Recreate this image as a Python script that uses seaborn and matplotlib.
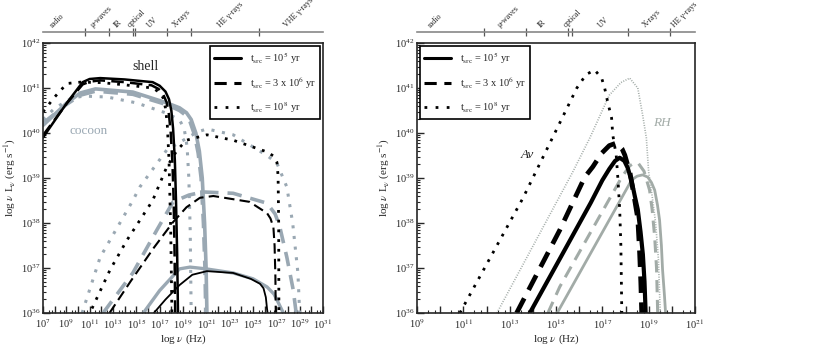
import numpy as np
import pandas as pd
import matplotlib
matplotlib.use('Agg')
import matplotlib.pyplot as plt
import matplotlib.ticker as mticker
from matplotlib.lines import Line2D
import seaborn as sns

sns.set_style('ticks')
plt.rcParams['font.family'] = ['Liberation Serif', 'DejaVu Serif']
plt.rcParams['mathtext.fontset'] = 'stix'

BLACK = '#000000'
GRAY_L = '#9aa8b3'
GRAY_R = '#a2aba7'

# ---- left panel: shell (black) and cocoon (gray), log nu / log L ----
shell_sol_hi_x = [7, 9.05, 10.4, 11.0, 11.9, 14.0, 16.4, 17.0, 17.5, 17.8, 18.0, 18.15, 18.3, 18.4, 18.5, 18.57]
shell_sol_hi_y = [39.9, 40.67, 41.13, 41.2, 41.22, 41.19, 41.13, 41.05, 40.92, 40.75, 40.5, 40.1, 39.4, 38.5, 37.3, 36.0]
shell_dash_hi_x = [7, 9.05, 10.4, 11.0, 11.9, 14.0, 16.3, 16.9, 17.3, 17.6, 17.8, 17.95, 18.1, 18.2, 18.28, 18.33]
shell_dash_hi_y = [39.95, 40.66, 41.08, 41.14, 41.17, 41.13, 41.06, 40.98, 40.86, 40.68, 40.4, 40.0, 39.3, 38.5, 37.3, 36.0]
shell_dot_hi_x = [7, 8.0, 9.05, 10.2, 12.0, 14.0, 16.4, 17.0, 17.3, 17.5, 17.65, 17.8, 17.95, 18.05]
shell_dot_hi_y = [40.47, 40.8, 41.1, 41.13, 41.12, 41.07, 41.0, 40.9, 40.78, 40.55, 40.2, 39.4, 37.8, 36.0]

shell_sol_lo_x = [16.5, 17.5, 18.7, 19.8, 21.05, 23.3, 24.8, 25.6, 25.9, 26.1, 26.2, 26.25]
shell_sol_lo_y = [36.0, 36.3, 36.62, 36.85, 36.93, 36.89, 36.76, 36.65, 36.55, 36.35, 36.1, 36.0]
shell_dash_lo_x = [12.7, 14.5, 16.5, 18.15, 19.3, 20.45, 21.6, 24.7, 26.2, 26.5, 26.75, 26.85, 26.92, 26.95]
shell_dash_lo_y = [36.0, 36.7, 37.45, 38.02, 38.35, 38.56, 38.6, 38.47, 38.22, 38.1, 37.9, 37.5, 36.8, 36.0]
shell_dot_lo_x = [11.2, 12.75, 14.2, 16.4, 17.6, 18.5, 19.3, 21.05, 23.3, 26.2, 26.8, 27.05, 27.15, 27.2, 27.22]
shell_dot_lo_y = [36.1, 36.96, 37.62, 38.5, 39.24, 39.62, 39.84, 39.96, 39.84, 39.58, 39.48, 39.35, 39.05, 38.0, 36.0]

cocoon_sol_hi_x = [7, 9.05, 10.2, 11.5, 14.7, 17.6, 18.7, 19.3, 19.7, 20.1, 20.4, 20.65, 20.85, 20.98, 21.05]
cocoon_sol_hi_y = [40.17, 40.67, 40.89, 40.98, 40.91, 40.67, 40.56, 40.45, 40.3, 40.0, 39.6, 39.0, 38.0, 37.0, 36.0]
cocoon_dash_hi_x = [7, 9.05, 10.2, 11.5, 14.7, 17.6, 18.7, 19.2, 19.6, 20.0, 20.3, 20.55, 20.75, 20.88, 20.95]
cocoon_dash_hi_y = [40.22, 40.64, 40.84, 40.93, 40.86, 40.63, 40.5, 40.4, 40.25, 39.95, 39.55, 39.0, 38.0, 37.0, 36.0]
cocoon_dot_hi_x = [7, 8.0, 9.5, 10.5, 12.5, 15.0, 17.6, 18.7, 19.1, 19.35, 19.5, 19.62, 19.7]
cocoon_dot_hi_y = [40.3, 40.55, 40.78, 40.82, 40.8, 40.67, 40.44, 40.29, 40.1, 39.7, 39.0, 37.8, 36.0]

cocoon_sol_lo_x = [15.6, 17.0, 18.7, 19.6, 21.0, 23.3, 25.0, 26.2, 26.8, 27.15, 27.45, 27.6]
cocoon_sol_lo_y = [36.0, 36.5, 36.98, 37.02, 36.98, 36.89, 36.76, 36.58, 36.42, 36.24, 36.08, 36.0]
cocoon_dash_lo_x = [12.15, 14.7, 16.75, 18.15, 19.5, 20.7, 23.3, 26.2, 26.9, 27.3, 27.9, 28.45, 28.7]
cocoon_dash_lo_y = [36.0, 36.89, 37.84, 38.47, 38.62, 38.69, 38.66, 38.44, 38.2, 37.91, 37.24, 36.51, 36.0]
cocoon_dot_lo_x = [10.35, 11.9, 14.7, 15.3, 17.6, 20.2, 21.05, 23.3, 26.2, 27.05, 27.9, 28.4, 28.85, 29.0]
cocoon_dot_lo_y = [36.0, 37.24, 38.5, 38.8, 39.62, 40.02, 40.09, 39.96, 39.5, 39.33, 38.8, 38.0, 36.89, 36.0]

# ---- right panel: Av (black) and RH (gray) ----
av_sol_x = [13.87, 15.16, 16.5, 17.0, 17.3, 17.55, 17.75, 17.95, 18.1, 18.27, 18.4, 18.53, 18.65, 18.75, 18.82, 18.87]
av_sol_y = [36.0, 37.2, 38.45, 38.95, 39.2, 39.38, 39.45, 39.38, 39.22, 38.92, 38.6, 38.3, 37.8, 37.3, 36.7, 36.0]
av_dash_x = [13.3, 15.16, 16.24, 16.59, 16.97, 17.3, 17.62, 17.85, 17.97, 18.2, 18.4, 18.53, 18.61, 18.66, 18.7]
av_dash_y = [36.0, 37.84, 39.02, 39.25, 39.55, 39.72, 39.78, 39.65, 39.51, 39.1, 38.5, 38.1, 37.33, 36.7, 36.0]
av_dot_x = [10.85, 13.57, 15.9, 16.3, 16.67, 16.97, 17.1, 17.23, 17.4, 17.45, 17.6, 17.67, 17.75, 17.8, 17.84]
av_dot_y = [36.0, 38.55, 41.0, 41.3, 41.4, 41.22, 41.0, 40.69, 40.33, 39.96, 39.5, 39.0, 38.3, 37.5, 36.0]
rh_sol_x = [15.05, 18.27, 18.5, 18.74, 18.96, 19.12, 19.26, 19.38, 19.47, 19.55, 19.6, 19.68, 19.73]
rh_sol_y = [36.0, 38.96, 39.04, 39.07, 39.02, 38.9, 38.73, 38.4, 38.07, 37.5, 36.96, 36.4, 36.0]
rh_dash_x = [14.65, 15.16, 17.84, 18.18, 18.4, 18.55, 18.8, 19.04, 19.15, 19.26, 19.34, 19.39]
rh_dash_y = [36.0, 36.58, 39.02, 39.27, 39.34, 39.33, 39.15, 38.73, 38.3, 37.69, 37.0, 36.0]
rh_dot_x = [12.45, 15.72, 16.46, 17.3, 17.8, 18.18, 18.53, 18.74, 18.9, 19.0, 19.15, 19.3, 19.42, 19.5]
rh_dot_y = [36.0, 39.13, 39.89, 40.84, 41.12, 41.22, 41.0, 40.4, 39.89, 39.13, 38.6, 38.0, 37.2, 36.0]

# ---- band bars on top ----
left_bounds = [10.6, 12.66, 14.7, 14.9, 17.6, 19.7, 25.5]
left_band_pos = [8.0, 11.4, 13.4, 14.6, 16.3, 18.5, 22.3, 28.0]
left_band_names = ['radio', 'μ-waves', 'IR', 'optical', 'UV', 'X-rays', 'HE γ-rays', 'VHE γ-rays']
right_bounds = [11.9, 13.7, 15.5, 15.7, 18.1, 19.9]
right_band_pos = [9.65, 12.65, 14.4, 15.5, 17.0, 18.9, 20.2]
right_band_names = ['radio', 'μ-waves', 'IR', 'optical', 'UV', 'X-rays', 'HE γ-rays']

legend_labels = [r'$\mathregular{t_{src}}$ = 10$^5$ yr',
                 r'$\mathregular{t_{src}}$ = 3 x 10$^6$ yr',
                 r'$\mathregular{t_{src}}$ = 10$^8$ yr']


def draw(ax, lx, ly, color, ls, lw):
    d = pd.DataFrame({'nu': 10.0 ** np.array(lx), 'L': 10.0 ** np.array(ly)})
    sns.lineplot(data=d, x='nu', y='L', ax=ax, color=color, linestyle=ls,
                 linewidth=lw, sort=False, estimator=None)


def style_axes(ax, lo, hi, bounds, band_pos, band_names):
    ax.set_xscale('log')
    ax.set_yscale('log')
    ax.set_xlim(10.0 ** lo, 10.0 ** hi)
    ax.set_ylim(1e36, 1e42)
    ax.xaxis.set_major_locator(mticker.LogLocator(base=10, subs=(1.0,), numticks=40))
    ax.xaxis.set_major_formatter(mticker.FuncFormatter(
        lambda v, p: r'10$^{%d}$' % round(np.log10(v)) if round(np.log10(v)) % 2 == 1 else ''))
    ax.xaxis.set_minor_locator(mticker.LogLocator(base=10, subs=(3.0, 6.0), numticks=40))
    ax.xaxis.set_minor_formatter(mticker.NullFormatter())
    ax.yaxis.set_major_locator(mticker.LogLocator(base=10, numticks=10))
    ax.yaxis.set_minor_locator(mticker.LogLocator(base=10, subs=np.arange(2, 10), numticks=10))
    ax.yaxis.set_minor_formatter(mticker.NullFormatter())
    ax.tick_params(which='major', direction='in', length=5, width=1, labelsize=7.5, pad=2)
    ax.tick_params(axis='x', which='major', pad=3)
    ax.tick_params(which='minor', direction='in', length=2.5, width=0.8)
    for s in ax.spines.values():
        s.set_linewidth(1.2)
    ax.set_xlabel(r'log $\nu$ (Hz)', fontsize=8, labelpad=1)
    ax.set_ylabel(r'log $\nu$ L$_\nu$ (erg s$^{-1}$)', fontsize=8, labelpad=2)
    sec = ax.secondary_xaxis(1.04)
    sec.set_xticks([10.0 ** b for b in bounds])
    sec.xaxis.set_minor_locator(mticker.NullLocator())
    sec.tick_params(direction='inout', length=6, width=0.9, color='#555555', labelbottom=False,
                    labeltop=False)
    sec.spines['top'].set_color('#888888')
    sec.spines['top'].set_linewidth(1.2)
    trans = matplotlib.transforms.blended_transform_factory(ax.transData, ax.transAxes)
    for p, name in zip(band_pos, band_names):
        ax.text(10.0 ** p, 1.05, name, transform=trans, rotation=45, rotation_mode='anchor',
                ha='left', va='bottom', fontsize=5.8, family=['Liberation Serif', 'DejaVu Serif'])


fig = plt.figure(figsize=(8.31, 3.5), dpi=100)
axL = fig.add_axes([43 / 831, 37 / 350, 280 / 831, 270 / 350])
axR = fig.add_axes([417 / 831, 37 / 350, 278 / 831, 270 / 350])

# left panel
draw(axL, cocoon_dot_hi_x, cocoon_dot_hi_y, GRAY_L, (0, (1, 2.5)), 2.2)
draw(axL, cocoon_dot_lo_x, cocoon_dot_lo_y, GRAY_L, (0, (1, 2.5)), 2.2)
draw(axL, cocoon_dash_hi_x, cocoon_dash_hi_y, GRAY_L, (0, (4, 2.5)), 2.6)
draw(axL, cocoon_dash_lo_x, cocoon_dash_lo_y, GRAY_L, (0, (4, 2.5)), 2.6)
draw(axL, cocoon_sol_hi_x, cocoon_sol_hi_y, GRAY_L, '-', 2.6)
draw(axL, cocoon_sol_lo_x, cocoon_sol_lo_y, GRAY_L, '-', 2.4)
draw(axL, shell_dot_hi_x, shell_dot_hi_y, BLACK, (0, (1, 2.5)), 2.0)
draw(axL, shell_dot_lo_x, shell_dot_lo_y, BLACK, (0, (1, 2.5)), 2.0)
draw(axL, shell_dash_hi_x, shell_dash_hi_y, BLACK, (0, (5, 2.5)), 1.8)
draw(axL, shell_dash_lo_x, shell_dash_lo_y, BLACK, (0, (5, 2.5)), 1.5)
draw(axL, shell_sol_hi_x, shell_sol_hi_y, BLACK, '-', 1.8)
draw(axL, shell_sol_lo_x, shell_sol_lo_y, BLACK, '-', 1.3)
style_axes(axL, 7, 31, left_bounds, left_band_pos, left_band_names)
axL.text(10.0 ** 15.8, 10.0 ** 41.47, 'shell', fontsize=10, ha='center', va='center')
axL.text(10.0 ** 10.95, 10.0 ** 40.04, 'cocoon', fontsize=9.5, ha='center', va='center', color=GRAY_L)

# right panel
draw(axR, rh_dot_x, rh_dot_y, GRAY_R, (0, (0.6, 0.9)), 1.2)
draw(axR, rh_dash_x, rh_dash_y, GRAY_R, (0, (4, 2.5)), 2.2)
draw(axR, rh_sol_x, rh_sol_y, GRAY_R, '-', 2.0)
draw(axR, av_dot_x, av_dot_y, BLACK, (0, (1, 2.5)), 2.0)
draw(axR, av_dash_x, av_dash_y, BLACK, (0, (3.5, 2)), 3.4)
draw(axR, av_sol_x, av_sol_y, BLACK, '-', 3.0)
style_axes(axR, 9, 21, right_bounds, right_band_pos, right_band_names)
axR.text(10.0 ** 13.78, 10.0 ** 39.51, 'Av', fontsize=9.5, style='italic', ha='center', va='center')
axR.text(10.0 ** 19.56, 10.0 ** 40.22, 'RH', fontsize=9.5, style='italic', ha='center', va='center',
         color=GRAY_R)

handles = [Line2D([], [], color='k', lw=2.2, ls='-'),
           Line2D([], [], color='k', lw=2.2, ls=(0, (4, 2.5))),
           Line2D([], [], color='k', lw=2.0, ls=(0, (1, 3)))]
for ax, loc in [(axL, 'upper right'), (axR, 'upper left')]:
    leg = ax.legend(handles, legend_labels, loc=loc, fontsize=7.5, frameon=True, fancybox=False,
                    framealpha=1, edgecolor='k', borderaxespad=0.3, handlelength=2.6,
                    labelspacing=0.9)
    leg.get_frame().set_linewidth(1.2)

fig.savefig('out.png', dpi=100)
